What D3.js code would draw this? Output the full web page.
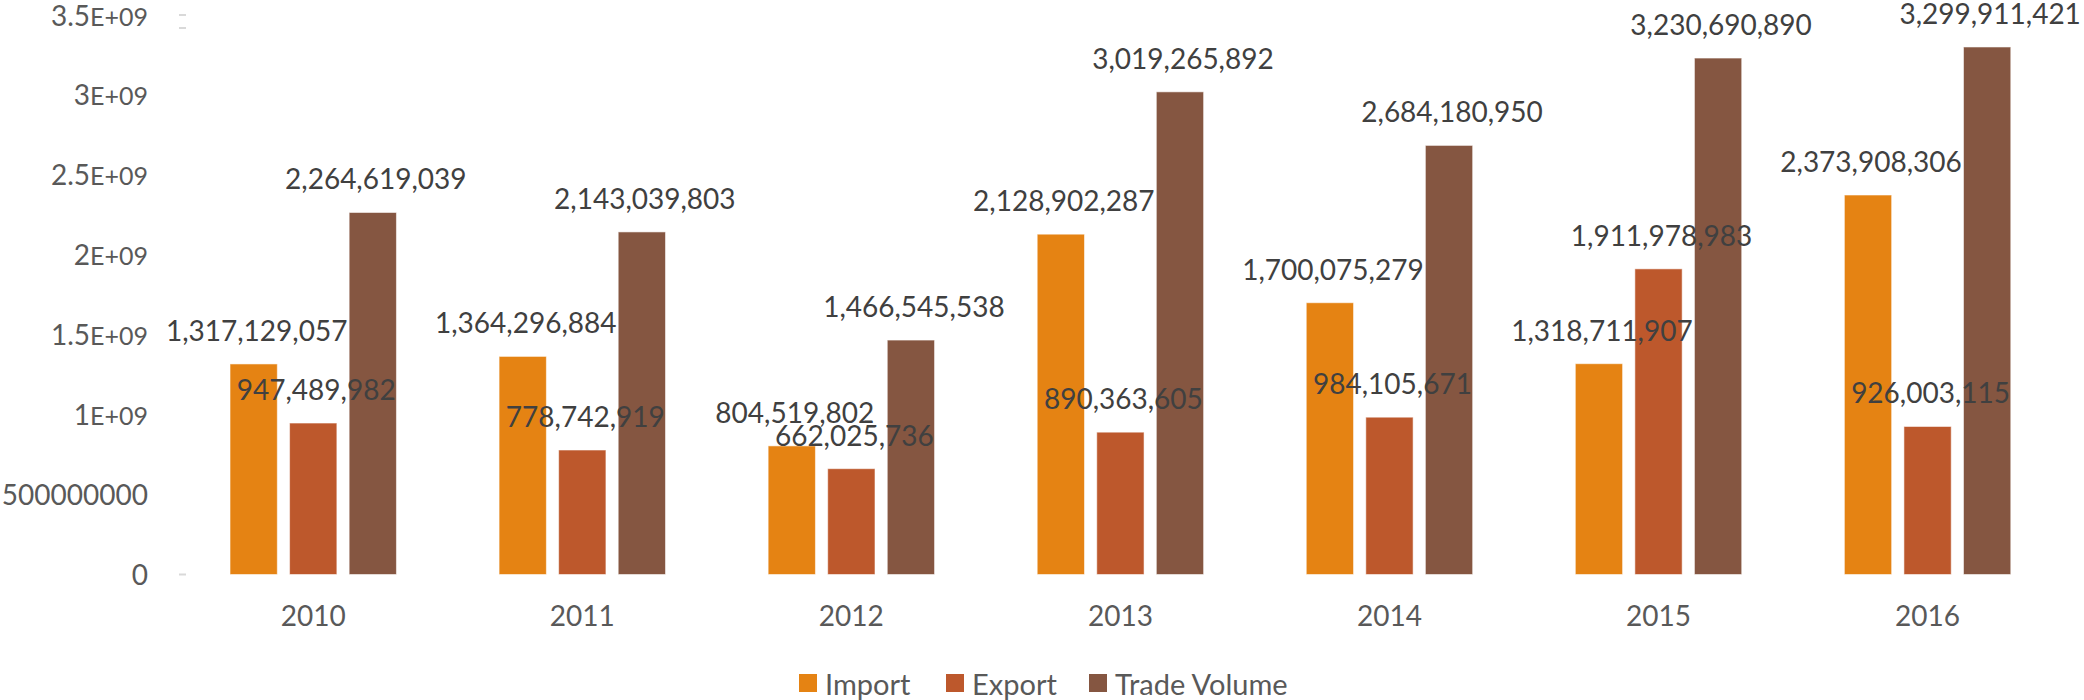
<!DOCTYPE html>
<html>
<head>
<meta charset="utf-8">
<script src="https://cdn.jsdelivr.net/npm/d3@7"></script>
<style>
  body { margin: 0; background: #fff; }
  svg text { font-family: Lato, "Open Sans", sans-serif; }
</style>
</head>
<body>
<div id="canvas"></div>
<script>
// data
var years = ['2010','2011','2012','2013','2014','2015','2016'];
var seriesNames = ['Import','Export','Trade Volume'];
var importVals = [1317129057, 1364296884, 804519802, 2128902287, 1700075279, 1318711907, 2373908306];
var exportVals = [947489982, 778742919, 662025736, 890363605, 984105671, 1911978983, 926003115];
var tradeVals = [2264619039, 2143039803, 1466545538, 3019265892, 2684180950, 3230690890, 3299911421];
var yTicks = [0, 5e8, 1e9, 1.5e9, 2e9, 2.5e9, 3e9, 3.5e9];
var yTickLabels = ['0','500000000','1E+09','1.5E+09','2E+09','2.5E+09','3E+09','3.5E+09'];
var colors = ['#E58313','#BD582C','#855641'];

var W = 2084, H = 700;
var svg = d3.select('#canvas').append('svg')
    .attr('width', W).attr('height', H);

var rows = years.map(function(y, i){
    return {year: y, values: [importVals[i], exportVals[i], tradeVals[i]]};
});

// scales
var x0 = d3.scaleBand()
    .domain(years)
    .range([178.7, 2062.1])
    .paddingInner(0.3815)
    .paddingOuter(0.3815 / 2);
var x1 = d3.scaleBand()
    .domain([0,1,2])
    .range([0, x0.bandwidth()])
    .paddingInner(0.206)
    .paddingOuter(0);
var y = d3.scaleLinear()
    .domain([0, 3.5e9])
    .range([574.5, 15]);

// y axis labels (mantissa bigger than exponent part like the original)
var yl = svg.append('g').attr('class','axis-y');
yTicks.forEach(function(t, i){
    var lab = yTickLabels[i];
    var txt = yl.append('text')
        .attr('x', 148)
        .attr('y', y(t) + 10.5)
        .attr('text-anchor','end')
        .attr('fill','#595959');
    var k = lab.indexOf('E');
    if(k < 0){
        txt.append('tspan').attr('font-size', 28).text(lab);
    } else {
        txt.append('tspan').attr('font-size', 28).text(lab.slice(0, k));
        txt.append('tspan').attr('font-size', 25).text(lab.slice(k));
    }
});

// faint tick marks
svg.append('g').selectAll('line')
    .data([y(0), y(3.5e9), y(3.5e9) + 13])
    .enter().append('line')
    .attr('x1', 179).attr('x2', 186)
    .attr('y1', function(d){return d;}).attr('y2', function(d){return d;})
    .attr('stroke','#d9d9d9').attr('stroke-width', 2);

// bars
var groups = svg.selectAll('.year')
    .data(rows)
    .enter().append('g')
    .attr('class','year')
    .attr('transform', function(d){ return 'translate(' + x0(d.year) + ',0)'; });

groups.selectAll('rect')
    .data(function(d){ return d.values; })
    .enter().append('rect')
    .attr('x', function(d, i){ return x1(i); })
    .attr('y', function(d){ return y(d); })
    .attr('width', x1.bandwidth())
    .attr('height', function(d){ return y(0) - y(d); })
    .attr('fill', function(d, i){ return colors[i]; })
    .attr('stroke', 'rgba(255,255,255,0.55)')
    .attr('stroke-width', 1);

// data labels
groups.selectAll('text.val')
    .data(function(d){ return d.values; })
    .enter().append('text')
    .attr('class','val')
    .attr('x', function(d, i){ return x1(i) + x1.bandwidth() / 2 + 3; })
    .attr('y', function(d){ return y(d) - 23; })
    .attr('text-anchor','middle')
    .attr('font-size', 28)
    .attr('fill','#404040')
    .text(function(d){ return d3.format(',')(d); });

// category labels
svg.append('g').selectAll('text')
    .data(years)
    .enter().append('text')
    .attr('x', function(d){ return x0(d) + x0.bandwidth() / 2; })
    .attr('y', 626)
    .attr('text-anchor','middle')
    .attr('font-size', 28)
    .attr('fill','#595959')
    .text(function(d){ return d; });

// legend
var legendX = [799, 946, 1089];
var legend = svg.append('g').selectAll('g')
    .data(seriesNames)
    .enter().append('g')
    .attr('transform', function(d, i){ return 'translate(' + legendX[i] + ',674)'; });
legend.append('rect')
    .attr('width', 18).attr('height', 18)
    .attr('fill', function(d, i){ return colors[i]; });
legend.append('text')
    .attr('x', 26).attr('y', 20.5)
    .attr('font-size', 29)
    .attr('fill','#595959')
    .text(function(d){ return d; });
</script>
</body>
</html>
